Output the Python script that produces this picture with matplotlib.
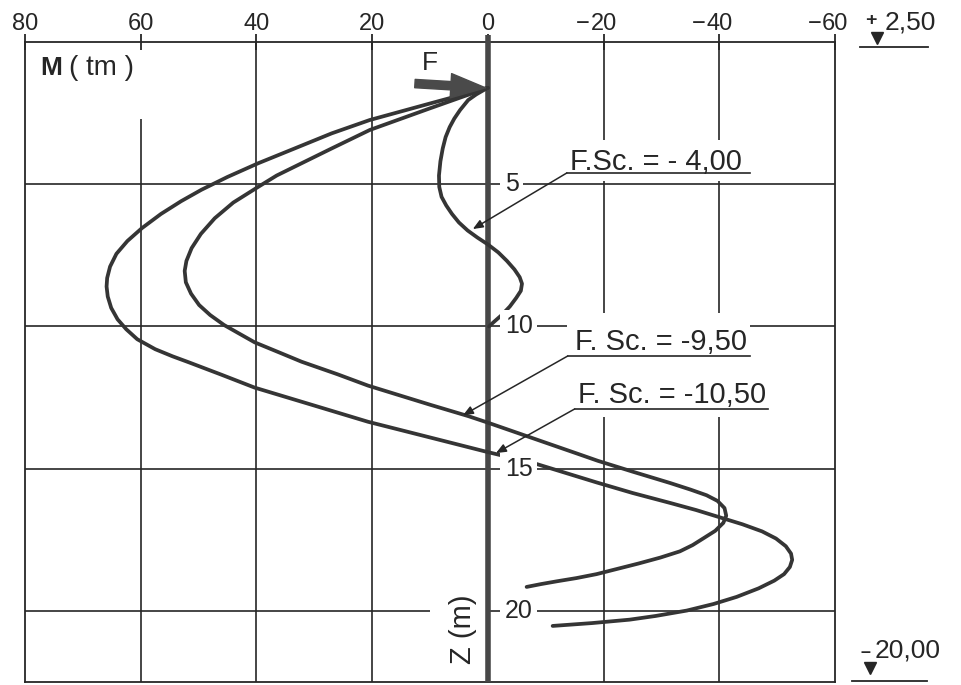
import matplotlib
matplotlib.use("Agg")
import matplotlib.pyplot as plt
from matplotlib.patches import Rectangle

plt.rcParams['font.family'] = ['Liberation Sans', 'DejaVu Sans']

# bending moment M (tm) along the pile, depth z (m) below +2,50
fsc4_m = [0.3, 2.0, 3.4, 4.8, 5.8, 6.6, 7.3, 7.8, 8.2, 8.45, 8.4, 8.0, 7.2, 6.2, 5.0,
          3.5, 1.8, 0, -1.8, -3.3, -4.6, -5.5, -5.9, -5.7, -4.9, -3.8, -2.4, -1.0, -0.2]
fsc4_z = [1.65, 1.85, 2.05, 2.4, 2.7, 3.0, 3.35, 3.75, 4.2, 4.7, 5.1, 5.45, 5.75, 6.05,
          6.35, 6.63, 6.88, 7.12, 7.4, 7.7, 8.0, 8.27, 8.5, 8.75, 9.0, 9.3, 9.6, 9.85, 10.0]

fsc95_m = [0, 10, 20.4, 27, 32.5, 36.5, 39.7, 44, 47.2, 49.6, 51.2, 52.1, 52.4, 52.2,
           51.3, 49.9, 48, 45.6, 43, 40.3, 36, 32.2, 26, 20.7, 10, 3.4, 0, -15.9, -19,
           -25, -31.5, -35, -37.8, -39.7, -40.9, -41.2, -40.7, -39.3, -37.2, -35.4,
           -33.2, -29.8, -26, -22.3, -18.8, -15.3, -12, -9.2, -6.7]
fsc95_z = [1.62, 2.34, 3.1, 3.75, 4.3, 4.7, 5.1, 5.65, 6.2, 6.75, 7.25, 7.7, 8.05, 8.45,
           8.85, 9.25, 9.6, 9.95, 10.25, 10.56, 10.92, 11.24, 11.68, 12.08, 12.75, 13.15,
           13.38, 14.5, 14.72, 15.1, 15.5, 15.73, 15.93, 16.13, 16.38, 16.65, 16.9,
           17.18, 17.45, 17.68, 17.9, 18.12, 18.33, 18.52, 18.7, 18.84, 18.95, 19.05,
           19.15]

fsc105_m = [0, 10, 20.4, 27, 33.4, 39.7, 45, 49.5, 53, 56.5, 59.8, 62.3, 64.2, 65.3,
            65.8, 65.9, 65.7, 65.1, 64.0, 62.5, 60.6, 57.5, 54.5, 51.7, 46, 40.3, 30,
            20.7, 10, 0.3, -7.9, -18.8, -25, -31.5, -36, -40, -44, -47.4, -49.8,
            -51.5, -52.4, -52.6, -52.2, -51.2, -49.5, -46.8, -43, -39, -34.4, -29,
            -24.5, -18, -11.2]
fsc105_z = [1.62, 2.17, 2.75, 3.22, 3.75, 4.27, 4.75, 5.2, 5.6, 6.05, 6.55, 7.0, 7.45,
            7.9, 8.3, 8.6, 8.95, 9.35, 9.75, 10.1, 10.45, 10.8, 11.05, 11.26, 11.7,
            12.15, 12.78, 13.35, 13.9, 14.4, 14.8, 15.48, 15.85, 16.2, 16.45, 16.7,
            16.95, 17.2, 17.45, 17.72, 17.98, 18.2, 18.45, 18.7, 18.93, 19.2, 19.5,
            19.75, 19.98, 20.17, 20.3, 20.42, 20.52]

m_ticks = [80, 60, 40, 20, 0, -20, -40, -60]
z_levels = [5, 10, 15, 20]
stage_labels = ['F.Sc. = - 4,00', 'F. Sc. = -9,50', 'F. Sc. = -10,50']

ink = '#262626'
curve_col = '#353535'

fig = plt.figure(figsize=(9.61, 6.85), dpi=100)
ax = fig.add_axes([25 / 961, 2.7 / 685, 810 / 961, 640.6 / 685])
ax.set_xlim(80, -60)
ax.set_ylim(22.5, 0)

for s in ax.spines.values():
    s.set_linewidth(1.3)
    s.set_color(ink)

ax.xaxis.tick_top()
ax.set_xticks(m_ticks)
ax.set_xticklabels([])
ax.set_yticks([])
ax.tick_params(axis='x', direction='inout', length=12, width=1.3, color=ink)

# top scale labels, digits centred on the tick, minus sign hanging left
for v in m_ticks:
    ax.annotate(str(abs(v)), xy=(v, -0.41), ha='center', va='baseline',
                fontsize=17, color=ink, annotation_clip=False)
    if v < 0:
        ax.annotate('\u2212', xy=(v, -0.41), xytext=(-10, 0),
                    textcoords='offset points', ha='right', va='baseline',
                    fontsize=17, color=ink, annotation_clip=False)

# grid
for v in [60, 40, 20, -20, -40]:
    ax.vlines(v, 2.7 if v == 60 else 0, 22.5, color=ink, lw=1.2, zorder=1)
for z in z_levels:
    if z == 20:
        ax.hlines(z, 80, 10, color=ink, lw=1.2, zorder=1)
        ax.hlines(z, 0, -60, color=ink, lw=1.2, zorder=1)
    else:
        ax.hlines(z, 80, -60, color=ink, lw=1.2, zorder=1)

# blank areas behind the stage labels
ax.add_patch(Rectangle((-13.6, 3.45), -31.7, 1.45, fc='white', ec='none', zorder=2))
ax.add_patch(Rectangle((-13.6, 9.53), -31.7, 1.72, fc='white', ec='none', zorder=2))
ax.add_patch(Rectangle((-14.5, 11.25), -34.1, 1.93, fc='white', ec='none', zorder=2))

# pile axis
ax.plot([0, 0], [-0.25, 22.5], color='#474747', lw=4, clip_on=False, zorder=4,
        solid_capstyle='butt')

for m, z in [(fsc4_m, fsc4_z), (fsc95_m, fsc95_z), (fsc105_m, fsc105_z)]:
    ax.plot(m, z, color=curve_col, lw=2.7, zorder=5,
            solid_joinstyle='round', solid_capstyle='round')

# depth labels on the pile axis
for z in z_levels:
    ax.text(-2.9, z, str(z), ha='left', va='center', fontsize=18, color=ink,
            zorder=6, bbox=dict(fc='white', ec='none', pad=3))

ax.text(4.3, 20.63, 'Z (m)', rotation=90, ha='center', va='center',
        fontsize=21, color=ink, zorder=6)

# stage labels with underline and leader
label_pos = [(-14.2, 4.51), (-15.0, 10.83), (-15.5, 12.69)]
underlines = [(-13.65, -45.3, 4.61), (-13.8, -45.3, 11.04), (-15.0, -48.4, 12.9)]
leader_tips = [(2.6, 6.58), (4.3, 13.12), (-1.4, 14.45)]
for txt, (lx, ly), (u0, u1, uz), tip in zip(stage_labels, label_pos,
                                             underlines, leader_tips):
    ax.text(lx, ly, txt, ha='left', va='baseline', fontsize=21, color=ink, zorder=7)
    ax.plot([u0, u1], [uz, uz], color=ink, lw=1.2, zorder=7)
    ax.annotate('', xy=tip, xytext=(u0, uz),
                arrowprops=dict(arrowstyle='-|>,head_length=0.6,head_width=0.25',
                                lw=1.1, color=ink, shrinkA=0, shrinkB=0),
                zorder=8)

# load F at the pile head
ax.annotate('', xy=(0.4, 1.62), xytext=(12.6, 1.47),
            arrowprops=dict(arrowstyle='simple,head_length=1.0,head_width=0.7,tail_width=0.24',
                            mutation_scale=25, color='#4a4a4a', shrinkA=0, shrinkB=0),
            zorder=6)
ax.text(10.0, 0.75, 'F', ha='center', va='center', fontsize=19, color=ink)

ax.text(77.4, 0.92, 'M', ha='left', va='center', fontsize=19, fontweight='bold',
        color=ink)
ax.text(72.4, 0.92, '( tm )', ha='left', va='center', fontsize=20, color=ink)

# level marks
ax.plot([-67.2], [-0.13], marker='v', ms=9, color=ink, clip_on=False)
ax.plot([-64.3, -76.0], [0.19, 0.19], color=ink, lw=1.3, clip_on=False)
ax.text(-66.2, -0.75, '+', ha='center', va='center', fontsize=14,
        fontweight='bold', color=ink)
ax.text(-68.5, -0.68, '2,50', ha='left', va='center', fontsize=19, color=ink)

ax.plot([-66.0], [22.0], marker='v', ms=9, color=ink, clip_on=False)
ax.plot([-62.9, -75.9], [22.46, 22.46], color=ink, lw=1.3, clip_on=False)
ax.text(-65.3, 21.45, '\u2013', ha='center', va='center', fontsize=13,
        fontweight='bold', color=ink)
ax.text(-66.8, 21.4, '20,00', ha='left', va='center', fontsize=19, color=ink)

fig.savefig('out.png', dpi=100)
